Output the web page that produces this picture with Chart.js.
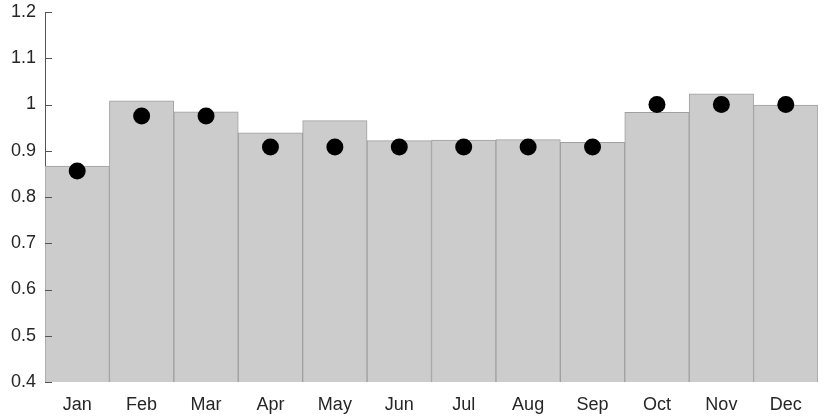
<!DOCTYPE html>
<html>
<head>
<meta charset="utf-8">
<script src="https://cdn.jsdelivr.net/npm/chart.js@4"></script>
<style>
  html, body { margin: 0; padding: 0; background: #fff; }
  #wrap { width: 830px; height: 416px; }
</style>
</head>
<body>
<div id="wrap"><canvas id="chart" width="830" height="416"></canvas></div>
<script>
// Dados do gráfico
const months = ['Jan', 'Feb', 'Mar', 'Apr', 'May', 'Jun', 'Jul', 'Aug', 'Sep', 'Oct', 'Nov', 'Dec'];
const barValues = [0.867, 1.008, 0.984, 0.939, 0.965, 0.922, 0.923, 0.924, 0.918, 0.983, 1.023, 0.999];
const dotValues = [0.856, 0.975, 0.975, 0.908, 0.908, 0.908, 0.908, 0.908, 0.908, 1.0, 1.0, 1.0];
const yTicks = [0.4, 0.5, 0.6, 0.7, 0.8, 0.9, 1.0, 1.1, 1.2];

// Marcas do eixo y para dentro da área do gráfico
const innerTicks = {
    id: 'innerTicks',
    afterDraw(chart) {
        const y = chart.scales.y;
        const c = chart.ctx;
        c.save();
        c.strokeStyle = '#555';
        c.lineWidth = 1;
        yTicks.forEach(v => {
            const py = Math.round(y.getPixelForValue(v)) + 0.5;
            c.beginPath();
            c.moveTo(y.right, py);
            c.lineTo(y.right + 7, py);
            c.stroke();
        });
        c.restore();
    }
};

const ctx = document.getElementById('chart').getContext('2d');
new Chart(ctx, {
    type: 'bar',
    data: {
        labels: months,
        datasets: [{
            type: 'line',
            data: dotValues,
            showLine: false,
            pointRadius: 8.5,
            pointHoverRadius: 8.5,
            pointBackgroundColor: '#000',
            pointBorderColor: '#000',
            pointBorderWidth: 0,
            order: 0
        }, {
            type: 'bar',
            data: barValues,
            backgroundColor: '#cccccc',
            borderColor: '#a0a0a0',
            borderWidth: 1,
            borderSkipped: false,
            categoryPercentage: 1,
            barPercentage: 1,
            order: 1
        }]
    },
    options: {
        responsive: false,
        animation: false,
        layout: { padding: { top: 12, right: 12, left: 0, bottom: 0 } },
        plugins: {
            legend: { display: false },
            tooltip: { enabled: false }
        },
        scales: {
            x: {
                grid: { display: false },
                border: { display: false },
                ticks: {
                    color: '#262626',
                    font: { family: 'Liberation Sans', size: 18 },
                    padding: 4,
                    maxRotation: 0
                },
                afterFit(scale) {
                    scale.height = 34;
                    scale.paddingLeft = 0;
                    scale.paddingRight = 0;
                }
            },
            y: {
                min: 0.4,
                max: 1.2,
                afterBuildTicks(scale) { scale.ticks = yTicks.map(v => ({ value: v })); },
                grid: { display: false, drawTicks: false },
                border: { display: true, color: '#555', width: 1 },
                ticks: {
                    color: '#262626',
                    font: { family: 'Liberation Sans', size: 18 },
                    padding: 9,
                    callback: v => String(Math.round(v * 10) / 10)
                },
                afterFit(scale) {
                    scale.width = 45;
                    scale.paddingTop = 0;
                    scale.paddingBottom = 0;
                }
            }
        }
    },
    plugins: [innerTicks]
});
</script>
</body>
</html>
